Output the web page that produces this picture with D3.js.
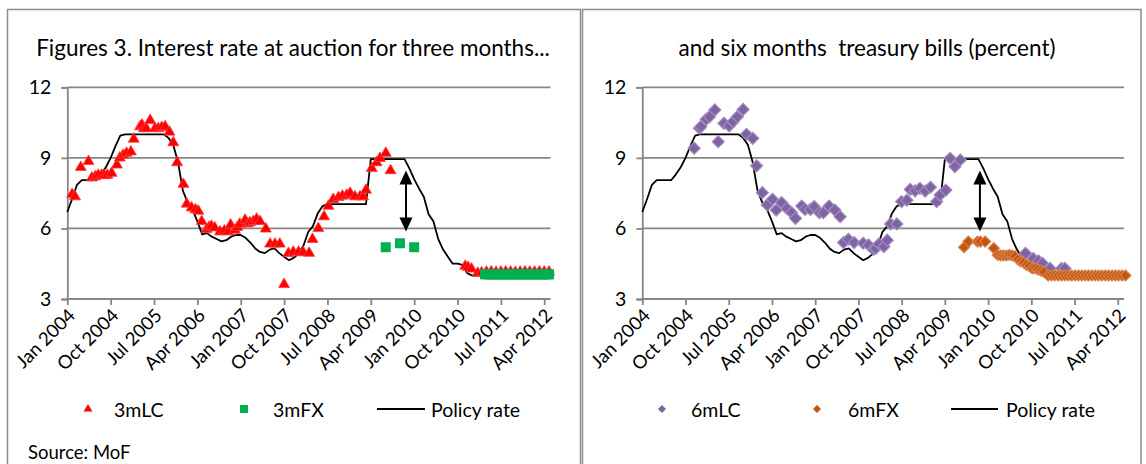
<!DOCTYPE html>
<html><head><meta charset="utf-8">
<script src="https://cdn.jsdelivr.net/npm/d3@7"></script>
<style>
body{margin:0;background:#fff}
svg{display:block}
text{font-family:Lato,'Liberation Sans',sans-serif;fill:#000}
</style>
</head><body>
<svg id="c" width="1146" height="464"></svg>
<script>
// ---------- DATA ----------
const tickLabels = ["Jan 2004","Oct 2004","Jul 2005","Apr 2006","Jan 2007","Oct 2007","Jul 2008","Apr 2009","Jan 2010","Oct 2010","Jul 2011","Apr 2012"];
const tickMonths = [0,9,18,27,36,45,54,63,72,81,90,99]; // months since Jan 2004
const yTicks = [3,6,9,12];

// Policy rate, monthly from Jan 2004
const policyRate = [6.7,7.25,7.85,8.05,8.05,8.05,8.05,8.3,8.6,9.0,9.5,9.95,
  10,10,10,10,10,10,10,10,10,9.85,9.55,8.8,
  7.6,7.1,6.8,6.3,5.75,5.8,5.65,5.55,5.45,5.5,5.65,5.72,
  5.72,5.6,5.4,5.15,5.0,4.95,5.1,5.15,4.95,4.8,4.65,4.75,
  4.92,5.25,5.85,6.1,6.65,6.95,7.03,7.03,7.03,7.03,7.03,7.03,
  7.03,7.03,7.03,8.95,8.95,8.95,8.95,8.95,8.95,8.95,8.95,8.55,
  8.1,7.7,7.35,6.6,6.3,5.55,5.1,4.8,4.5,4.5,4.45,4.1,
  4.0,4.0,4.0,4.0,4.0,4.0,4.0,4.0,4.0,4.0,4.0,4.0,
  4.0,4.0,4.0,4.0,4.0];

// 3-month local-currency bills (auction month, rate)
const lc3Month = [1,1.6,2.8,4.4,5.1,5.8,6.4,7.1,7.7,8.3,9.2,10.3,10.9,11.6,12.3,13.2,13.8,15.1,15.5,15.9,16.4,17.2,18.2,18.9,19.6,20.3,21.2,22,22.8,24.1,24.8,25.8,26.6,27.2,27.9,28.9,29.4,29.9,30.6,31.7,32.6,33.4,33.9,34.8,35.3,35.8,36.9,37.4,37.9,38.6,39.3,40,41.2,42.1,43.1,44.1,45,45.9,46.9,48,49,50.2,50.9,52.1,53.3,54.2,55.2,56.3,57.1,58,58.7,59.7,60.75,61.4,62,63.2,64.2,64.9,66.1,67.1,82.6,83.2,83.9,85.2,86,87,88,89,90,91,92,93,94,95,96,97,98,99,100];
const lc3Rate  = [7.45,7.35,8.6,8.85,8.15,8.2,8.27,8.27,8.25,8.27,8.35,8.7,9.0,9.12,9.2,9.26,9.8,10.33,10.4,10.25,10.25,10.6,10.25,10.25,10.3,10.33,10.1,9.65,8.8,7.88,7.04,6.88,6.8,6.74,6.3,5.96,6.05,6.1,6.03,5.86,5.9,5.86,6.15,5.93,6.05,6.19,6.36,6.2,6.25,6.3,6.4,6.3,5.98,5.34,5.34,5.34,3.62,4.94,5.0,5.0,4.97,4.95,5.54,6.0,6.5,6.95,7.24,7.32,7.38,7.42,7.5,7.35,7.35,7.35,7.63,8.56,8.8,8.98,9.2,8.46,4.4,4.35,4.28,4.1,4.12,4.15,4.16,4.14,4.15,4.16,4.15,4.14,4.15,4.16,4.15,4.15,4.16,4.15,4.15];

// 3-month foreign-currency bills
const fx3Month = [66.1,69.05,72,86.7,87.2,87.7,88.2,88.7,89.2,89.7,90.2,90.7,91.2,91.7,92.2,92.7,93.2,93.7,94.2,94.7,95.2,95.7,96.2,96.7,97.2,97.7,98.2,98.7,99.2,99.7,100];
const fx3Rate  = [5.2,5.37,5.2,4.05,4.05,4.05,4.05,4.05,4.05,4.05,4.05,4.05,4.05,4.05,4.05,4.05,4.05,4.05,4.05,4.05,4.05,4.05,4.05,4.05,4.05,4.05,4.05,4.05,4.05,4.05,4.05];

// 6-month local-currency bills
const lc6Month = [10.8,11.9,12.2,13.3,14,15.1,15.8,17,18.1,18.9,19.8,21,21.7,23,23.8,25,26,27.1,27.9,29,30.1,31.1,31.9,33.2,33.9,35,35.8,36.9,37.7,38.9,40.1,41.2,41.9,42.9,44.1,46,47.1,48.1,48.6,49.3,50.3,51,51.7,53,54,55.1,55.8,56.8,57.8,58.9,60,61.3,62,63.2,64.1,65.1,66.2,79.8,81.4,82.5,83.3,84.9,87.3,88];
const lc6Rate  = [9.41,10.26,10.33,10.64,10.75,11.04,9.69,10.47,10.36,10.54,10.75,11.06,10.0,9.83,8.66,7.52,7.0,7.24,6.78,7.1,6.85,6.67,6.43,6.95,6.81,6.81,6.93,6.67,6.67,6.95,6.78,6.5,5.4,5.54,5.4,5.37,5.3,5.11,5.15,5.34,5.23,5.5,6.19,6.19,7.14,7.2,7.66,7.6,7.7,7.59,7.75,7.14,7.42,7.63,8.98,8.63,8.91,4.94,4.72,4.62,4.52,4.3,4.3,4.3];

// 6-month foreign-currency bills
const fx6Month = [67,67.9,69.8,70.4,71.4,73.2,74,74.6,75.2,75.8,76.4,77,77.6,78.2,78.8,79.4,80,80.6,81.2,81.8,82.4,83,83.6,84.5,85.2,85.9,86.6,87.3,88,88.7,89.4,90.1,90.8,91.5,92.2,92.9,93.6,94.3,95,95.7,96.4,97.1,97.8,98.5,99.2,99.9,100.6];
const fx6Rate  = [5.2,5.44,5.44,5.44,5.44,5.16,4.87,4.85,4.85,4.85,4.87,4.85,4.82,4.68,4.6,4.55,4.45,4.4,4.3,4.3,4.25,4.2,4.15,4.0,4.0,4.0,4.0,4.0,4.0,4.0,4.0,4.0,4.0,4.0,4.0,4.0,4.0,4.0,4.0,4.0,4.0,4.0,4.0,4.0,4.0,4.0,4.0];

// Annotation: double arrow (month, top rate, bottom rate)
const arrowMonth = [70.3];
const arrowTop = [8.46];
const arrowBottom = [5.87];

const titles = ["Figures 3. Interest rate at auction for three months...", "and six months  treasury bills (percent)"];
const legendNames = [["3mLC","3mFX","Policy rate"],["6mLC","6mFX","Policy rate"]];
const sourceText = "Source: MoF";

// ---------- DRAW ----------
const svg = d3.select("#c");
const GRID = "#868686";
const FONT = 18.5;
const LFONT = 19.5;
const TFONT = 22.5;

// panel frames
svg.append("rect").attr("x",7.5).attr("y",9.5).attr("width",573).attr("height",480)
  .attr("fill","none").attr("stroke","#8c8c8c").attr("stroke-width",1.5);
svg.append("rect").attr("x",582.5).attr("y",9.5).attr("width",558.5).attr("height",480)
  .attr("fill","none").attr("stroke","#8c8c8c").attr("stroke-width",1.5);

const y = d3.scaleLinear().domain([3,12]).range([299,87.3]);

function diamond(r){ return `M0,${-r}L${r},0L0,${r}L${-r},0Z`; }

function panel(opts){
  const x = d3.scaleLinear().domain([0,100.3]).range([opts.x0, opts.x1]);
  const g = svg.append("g");

  // title
  g.append("text").attr("x",opts.titleX).attr("y",47).attr("text-anchor","middle")
    .attr("dominant-baseline","central").style("font-size",TFONT+"px").style("white-space","pre")
    .attr("xml:space","preserve").text(opts.title);

  // gridlines
  g.append("g").selectAll("line").data(yTicks.filter(d=>d>3)).join("line")
    .attr("x1",opts.x0).attr("x2",opts.x1).attr("y1",d=>y(d)).attr("y2",d=>y(d))
    .attr("stroke",GRID).attr("stroke-width",1.8);

  // y axis
  const ya = g.append("g").attr("transform",`translate(${opts.x0},0)`)
    .call(d3.axisLeft(y).tickValues(yTicks).tickSize(6).tickPadding(10).tickFormat(d3.format("d")));
  ya.select(".domain").attr("stroke",GRID).attr("stroke-width",1.8);
  ya.selectAll(".tick line").attr("stroke",GRID).attr("stroke-width",1.8);
  ya.selectAll("text").style("font-size",LFONT+"px").attr("font-family",null).attr("fill","#000");

  // x axis
  const xa = g.append("g").attr("transform",`translate(0,${y(3)})`)
    .call(d3.axisBottom(x).tickValues(tickMonths).tickSize(6).tickFormat((d,i)=>tickLabels[i]));
  xa.select(".domain").attr("stroke",GRID).attr("stroke-width",1.8).attr("d",`M${opts.x0},0H${opts.x1}`);
  xa.selectAll(".tick line").attr("stroke",GRID).attr("stroke-width",1.8);
  xa.selectAll("text").style("font-size",FONT+"px").attr("fill","#000")
    .attr("x",0).attr("y",0).attr("dy","0.35em")
    .attr("text-anchor","end")
    .attr("transform","translate(4,13) rotate(-45)");

  // policy line
  g.append("path").datum(policyRate)
    .attr("fill","none").attr("stroke","#000").attr("stroke-width",1.8).attr("stroke-linejoin","round")
    .attr("d", d3.line().x((d,i)=>x(i)).y(d=>y(d)));

  // markers
  opts.draw(g, x);

  // arrow
  const ag = g.append("g");
  arrowMonth.forEach((m,i)=>{
    const ax = x(m), t = y(arrowTop[i]), b = y(arrowBottom[i]);
    ag.append("line").attr("x1",ax).attr("x2",ax).attr("y1",t+10).attr("y2",b-10)
      .attr("stroke","#000").attr("stroke-width",2);
    ag.append("path").attr("d",`M${ax},${t}L${ax+6.5},${t+14}L${ax-6.5},${t+14}Z`).attr("fill","#000");
    ag.append("path").attr("d",`M${ax},${b}L${ax+6.5},${b-14}L${ax-6.5},${b-14}Z`).attr("fill","#000");
  });

  // legend
  const ly = 409;
  const lg = g.append("g");
  opts.legendMarker(lg, ly);
  lg.append("text").attr("x",opts.lgText[0]).attr("y",ly).attr("dominant-baseline","central").style("font-size",LFONT+"px").text(opts.legend[0]);
  lg.append("text").attr("x",opts.lgText[1]).attr("y",ly).attr("dominant-baseline","central").style("font-size",LFONT+"px").text(opts.legend[1]);
  lg.append("line").attr("x1",opts.lgLine[0]).attr("x2",opts.lgLine[1]).attr("y1",ly).attr("y2",ly).attr("stroke","#000").attr("stroke-width",1.8);
  lg.append("text").attr("x",opts.lgText[2]).attr("y",ly).attr("dominant-baseline","central").style("font-size",LFONT+"px").text(opts.legend[2]);
}

// LEFT PANEL
panel({
  x0:67.3, x1:550.5, titleX:293, title:titles[0], legend:legendNames[0],
  lgText:[114,273,431], lgLine:[377,425],
  draw:(g,x)=>{
    const tri = d3.symbol(d3.symbolTriangle).size(52)();
    g.append("g").selectAll("path").data(d3.zip(lc3Month,lc3Rate)).join("path")
      .attr("d",tri).attr("transform",d=>`translate(${x(d[0])},${y(d[1])})`)
      .attr("fill","#ff0000").attr("stroke","#ff3b3b").attr("stroke-width",0.8);
    g.append("g").selectAll("rect").data(d3.zip(fx3Month,fx3Rate)).join("rect")
      .attr("x",d=>x(d[0])-5).attr("y",d=>y(d[1])-5).attr("width",10).attr("height",10)
      .attr("fill","#00b050");
  },
  legendMarker:(lg,ly)=>{
    lg.append("path").attr("d",d3.symbol(d3.symbolTriangle).size(34)()).attr("transform",`translate(88,${ly})`).attr("fill","#ff0000");
    lg.append("rect").attr("x",240).attr("y",ly-4).attr("width",8).attr("height",8).attr("fill","#00b050");
  }
});

// RIGHT PANEL
panel({
  x0:642.3, x1:1124, titleX:867, title:titles[1], legend:legendNames[1],
  lgText:[691,848,1006], lgLine:[951,998],
  draw:(g,x)=>{
    g.append("g").selectAll("path").data(d3.zip(lc6Month,lc6Rate)).join("path")
      .attr("d",diamond(6)).attr("transform",d=>`translate(${x(d[0])},${y(d[1])})`)
      .attr("fill","#8064a2").attr("stroke","#a08ac0").attr("stroke-width",1.2);
    g.append("g").selectAll("path").data(d3.zip(fx6Month,fx6Rate)).join("path")
      .attr("d",diamond(5.5)).attr("transform",d=>`translate(${x(d[0])},${y(d[1])})`)
      .attr("fill","#c0560f").attr("stroke","#d98048").attr("stroke-width",1.2);
  },
  legendMarker:(lg,ly)=>{
    lg.append("path").attr("d",diamond(4)).attr("transform",`translate(662,${ly})`).attr("fill","#8064a2");
    lg.append("path").attr("d",diamond(4)).attr("transform",`translate(817,${ly})`).attr("fill","#c0560f");
  }
});

svg.append("text").attr("x",28).attr("y",452).attr("dominant-baseline","central")
  .style("font-size",FONT+"px").text(sourceText);
</script>
</body></html>
